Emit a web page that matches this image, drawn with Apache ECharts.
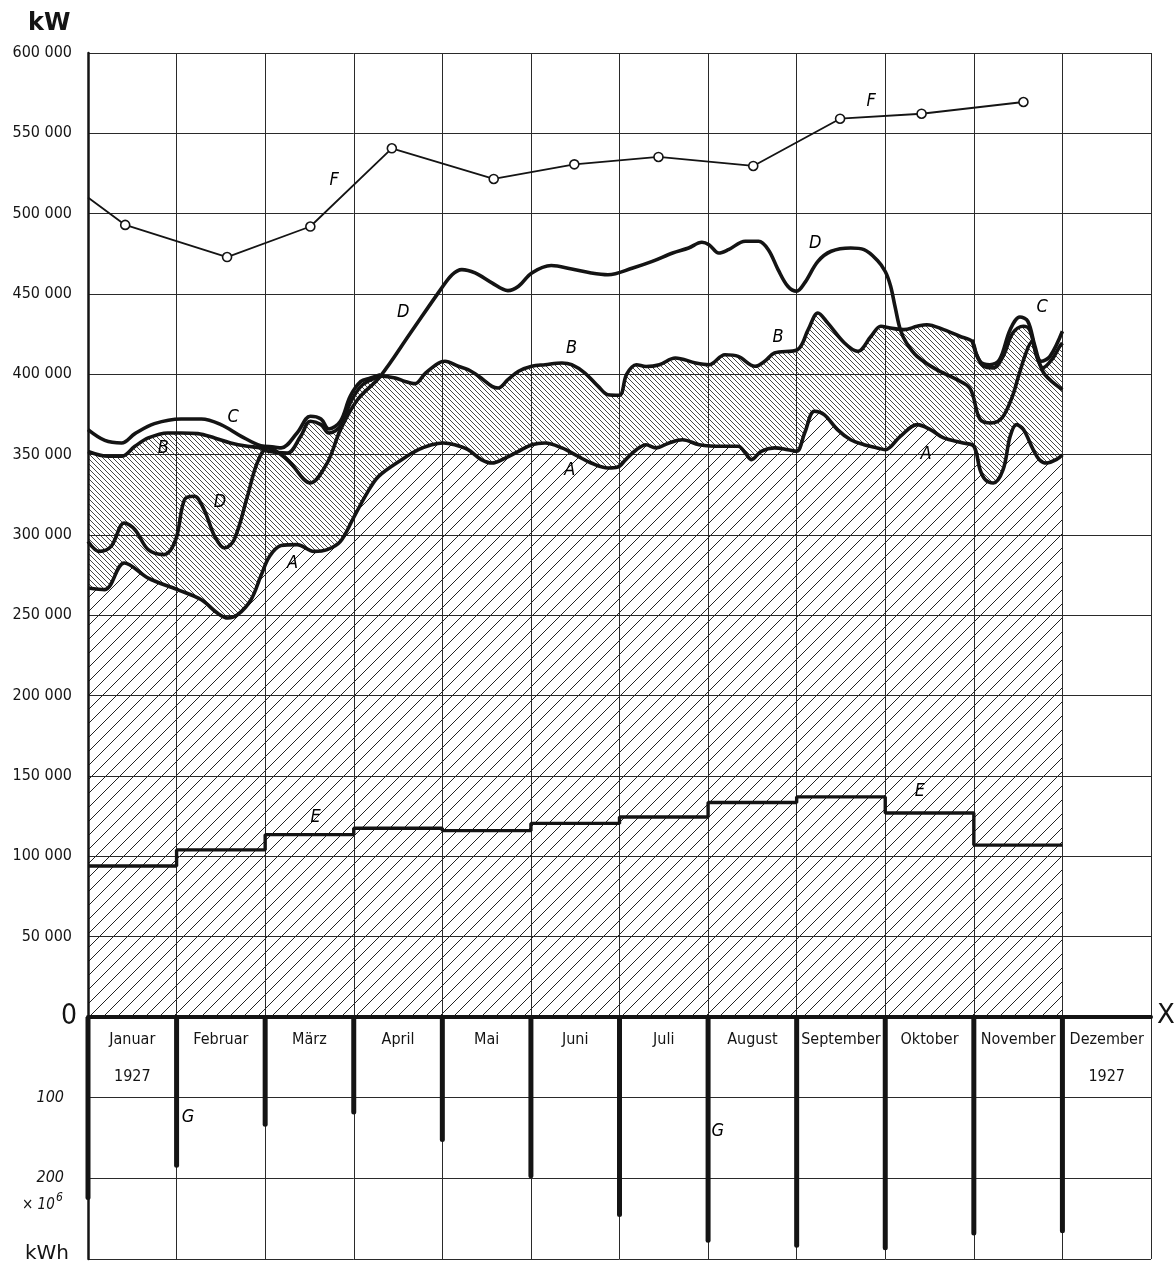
<!DOCTYPE html>
<html><head><meta charset="utf-8">
<script src="https://cdn.jsdelivr.net/npm/echarts/dist/echarts.min.js"></script>
<style>html,body{margin:0;padding:0;background:#fff}#c{width:1175px;height:1261px}</style>
</head><body><div id="c"></div>
<script>
// ---------- data (months as x: 0 = 1 January, 12 = end of December) ----------
const months = ['Januar','Februar','März','April','Mai','Juni','Juli','August','September','Oktober','November','Dezember'];
const monthYear = ['1927','','','','','','','','','','','1927'];
const kwTickStep = 50000;
const kwhTickLabels = [100, 200];

const curveA = [[0,267000],[0.19,266000],[0.41,282600],[0.68,273200],[1.01,266000],[1.28,259700],[1.46,251400],[1.58,248300],[1.69,250400],[1.84,259700],[1.95,274300],[2.05,286700],[2.18,293400],[2.36,294000],[2.55,289800],[2.70,290900],[2.85,296000],[3.00,311000],[3.15,326100],[3.28,336500],[3.54,346900],[3.73,353100],[3.88,356200],[4.01,357300],[4.14,356200],[4.29,353100],[4.44,346900],[4.56,344800],[4.71,347900],[4.86,352100],[5.01,356200],[5.16,357300],[5.35,354200],[5.53,349000],[5.68,344800],[5.87,341700],[5.98,342300],[6.07,346900],[6.19,353100],[6.30,356200],[6.41,354200],[6.56,357300],[6.71,359300],[6.90,356200],[7.16,355200],[7.34,355200],[7.42,351000],[7.49,346900],[7.60,352100],[7.75,354200],[7.90,353100],[8.00,352100],[8.09,363500],[8.20,377000],[8.31,374900],[8.46,365600],[8.61,359300],[8.76,356200],[8.91,354200],[9.00,353100],[9.17,361400],[9.36,368700],[9.51,365600],[9.66,360400],[9.88,357300],[10.00,355200],[10.07,340700],[10.13,334400],[10.22,332400],[10.33,340700],[10.41,361400],[10.48,368700],[10.56,365600],[10.67,353100],[10.74,346900],[10.82,344800],[10.93,346900],[11.00,350000]];

const curveB = [[0,352000],[0.23,349000],[0.38,349000],[0.53,355200],[0.68,360400],[0.90,363500],[1.05,363500],[1.24,363100],[1.43,360400],[1.61,357300],[1.80,355200],[1.95,354200],[2.03,352100],[2.25,351000],[2.40,361400],[2.51,370800],[2.63,368700],[2.72,363500],[2.85,367600],[2.96,382200],[3.08,392500],[3.20,396700],[3.32,398800],[3.47,397700],[3.58,395600],[3.69,394200],[3.81,400800],[3.96,407100],[4.03,408100],[4.18,405000],[4.29,402900],[4.41,398800],[4.56,392500],[4.63,391500],[4.74,396700],[4.86,401900],[5.01,405000],[5.16,406000],[5.35,407100],[5.46,406000],[5.61,400800],[5.76,392500],[5.87,387300],[6.00,387000],[6.08,400000],[6.19,406000],[6.30,404900],[6.45,406000],[6.63,410200],[6.86,407100],[7.01,406000],[7.19,412200],[7.34,411200],[7.53,405000],[7.64,408100],[7.75,413300],[8.01,415400],[8.13,427800],[8.24,438200],[8.35,432000],[8.54,419500],[8.69,414300],[8.84,423700],[8.95,429900],[9.06,428800],[9.21,427800],[9.36,429900],[9.47,430900],[9.66,427800],[9.84,423700],[9.98,420500],[10.03,412200],[10.11,405000],[10.22,404000],[10.33,411200],[10.44,425700],[10.56,429900],[10.63,427800],[10.71,411200],[10.78,404000],[10.88,409100],[10.97,417400],[11.00,419500]];

const curveCWinter = [[0,365600],[0.19,358900],[0.38,357300],[0.53,363100],[0.75,369300],[1.05,372200],[1.28,372200],[1.50,368700],[1.73,361400],[1.95,355600],[2.10,354800],[2.18,354200],[2.36,363500],[2.51,373900],[2.63,372200],[2.72,366000],[2.85,370800],[2.96,386300],[3.08,395600],[3.19,397700],[3.30,399800]];
const curveCAutumn = [[9.98,421500],[10.07,408100],[10.18,406000],[10.29,409100],[10.41,427800],[10.52,435700],[10.61,433000],[10.69,417400],[10.76,408100],[10.86,411200],[11.00,426800]];

const curveD = [[0,296000],[0.13,289800],[0.26,292900],[0.41,307500],[0.53,303300],[0.68,290900],[0.86,287800],[0.99,297100],[1.09,322000],[1.20,324100],[1.31,315800],[1.43,299200],[1.54,291900],[1.65,297100],[1.80,324100],[1.91,344800],[2.03,354200],[2.25,346900],[2.51,332400],[2.70,344800],[2.85,365600],[3.04,384000],[3.30,398800],[3.64,425700],[3.98,452700],[4.11,462000],[4.22,465200],[4.37,463100],[4.56,456900],[4.74,452100],[4.86,454800],[5.01,463100],[5.23,467700],[5.46,465600],[5.68,463100],[5.87,462000],[6.15,466200],[6.37,470300],[6.60,475500],[6.78,478600],[6.93,482200],[7.01,480700],[7.12,475500],[7.23,477600],[7.42,482800],[7.57,482800],[7.68,477600],[7.79,465200],[7.90,454800],[8.00,451700],[8.09,456900],[8.24,470300],[8.39,476600],[8.61,478600],[8.76,477600],[8.91,471000],[9.00,464000],[9.06,455000],[9.11,442300],[9.17,427800],[9.24,419500],[9.36,411200],[9.58,402900],[9.81,396700],[9.96,391000],[10.07,372000],[10.20,369700],[10.32,373000],[10.43,385500],[10.50,398000],[10.58,412000],[10.65,420000],[10.72,410000],[10.80,400000],[11.00,390500]];

const stepE = [[0,94000],[1,104000],[2,113500],[3,117500],[4,116000],[5,120500],[6,124500],[7,133500],[8,137000],[9,127000],[10,107000],[11,107000]];

const pointsF = [[0,510000],[0.42,493000],[1.57,473000],[2.51,492000],[3.43,540700],[4.58,521600],[5.49,530700],[6.44,535300],[7.51,529700],[8.49,559100],[9.41,562200],[10.56,569500]];

// monthly energy G, in 10^6 kWh
const energyG = [[0,227],[1,187],[2,136],[3,121],[4,155],[5,200],[6,248],[7,280],[8,286],[9,289],[10,271],[11,268]];

// curve letters (annotation anchors in data coordinates)
const lettersUpper = [['F',2.78,521000],['F',8.84,570100],['D',3.56,438800],['D',1.49,320500],['D',8.21,481700],['B',0.85,354100],['B',5.46,416400],['B',7.79,423200],['C',1.64,373400],['C',10.77,441900],['A',2.31,282600],['A',5.44,340500],['A',9.46,350400],['E',2.57,124500],['E',9.39,140700]];
const lettersLower = [['G',1.13,124],['G',7.11,142]];

// ---------- patterns ----------
function hatch(size, dir, lw, color, bg) {
  const c = document.createElement('canvas');
  c.width = size; c.height = size;
  const g = c.getContext('2d');
  if (bg) { g.fillStyle = bg; g.fillRect(0, 0, size, size); }
  g.strokeStyle = color; g.lineWidth = lw;
  g.beginPath();
  for (const o of [-size, 0, size]) {
    if (dir === '/') { g.moveTo(o, size); g.lineTo(o + size, 0); }
    else { g.moveTo(o, 0); g.lineTo(o + size, size); }
  }
  g.stroke();
  return c;
}
const wideHatch = hatch(14, '/', 1, '#222', '#fff');
const denseHatch = hatch(5, '\\', 0.9, '#333', null);

const INK = '#141414';
const FONT = "'Liberation Sans Narrow','DejaVu Sans Condensed','Liberation Sans',sans-serif";
const fmtKw = v => v === 0 ? '{big|0}' : String(v).replace(/\B(?=(\d{3})+(?!\d))/g, ' ');

const thick = { color: INK, width: 3.6 };
const letterLabel = { show: true, position: 'inside', formatter: '{b}', fontFamily: "'DejaVu Sans Condensed','Liberation Sans Narrow',sans-serif",
  fontStyle: 'italic', fontSize: 18, color: '#000', textBorderWidth: 0, opacity: 1 };

const chart = echarts.init(document.getElementById('c'), null, { renderer: 'canvas' });
chart.setOption({
  animation: false,
  backgroundColor: '#fff',
  grid: [
    { left: 88, right: 24, top: 53, height: 964 },
    { left: 88, right: 24, top: 1017, height: 242 }
  ],
  xAxis: [
    { type: 'value', gridIndex: 0, min: 0, max: 12, interval: 1, z: 5,
      axisLine: { show: false }, axisTick: { show: false }, axisLabel: { show: false },
      splitLine: { show: true, lineStyle: { color: '#2a2a2a', width: 1 } } },
    { type: 'category', gridIndex: 1, position: 'top', data: months.map((m, i) => monthYear[i] ? m + '\n' + monthYear[i] : m),
      boundaryGap: true, z: 6,
      axisLine: { show: true, lineStyle: { color: INK, width: 4 } }, axisTick: { show: false },
      axisLabel: { inside: true, margin: 4, fontFamily: FONT, fontSize: 16, color: INK, lineHeight: 37, interval: 0 },
      splitLine: { show: false } },
    { type: 'value', gridIndex: 1, min: 0, max: 12, interval: 1, z: 5,
      axisLine: { show: false }, axisTick: { show: false }, axisLabel: { show: false },
      splitLine: { show: true, lineStyle: { color: '#2a2a2a', width: 1 } } }
  ],
  yAxis: [
    { type: 'value', gridIndex: 0, min: 0, max: 600000, interval: kwTickStep, z: 5,
      axisLine: { show: true, lineStyle: { color: INK, width: 2.5 } }, axisTick: { show: false },
      axisLabel: { margin: 16, fontFamily: FONT, fontSize: 16, color: INK, formatter: fmtKw,
        rich: { big: { fontSize: 28, fontFamily: FONT, color: INK, padding: [0, -5, 0, 0] } } },
      splitLine: { show: true, lineStyle: { color: '#2a2a2a', width: 1 } } },
    { type: 'value', gridIndex: 1, min: 0, max: 300, interval: 100, inverse: true, z: 5,
      axisLine: { show: true, lineStyle: { color: INK, width: 2.5 } }, axisTick: { show: false },
      axisLabel: { margin: 24, fontFamily: FONT, fontSize: 16, fontStyle: 'italic', color: INK,
        formatter: v => kwhTickLabels.includes(v) ? String(v) : '' },
      splitLine: { show: true, lineStyle: { color: '#2a2a2a', width: 1 } } }
  ],
  series: [
    { name: 'B-Fläche', type: 'line', xAxisIndex: 0, yAxisIndex: 0, data: curveB, smooth: 0.35, symbol: 'none',
      lineStyle: { width: 0 }, areaStyle: { color: { image: denseHatch, repeat: 'repeat' }, opacity: 1 }, z: 1 },
    { name: 'A-Fläche', type: 'line', xAxisIndex: 0, yAxisIndex: 0, data: curveA, smooth: 0.35, symbol: 'none',
      lineStyle: { width: 0 }, areaStyle: { color: { image: wideHatch, repeat: 'repeat' }, opacity: 1 }, z: 2 },
    { name: 'C', type: 'line', data: curveCWinter, smooth: 0.35, symbol: 'none', lineStyle: thick, z: 7 },
    { name: 'C', type: 'line', data: curveCAutumn, smooth: 0.35, symbol: 'none', lineStyle: thick, z: 7 },
    { name: 'B', type: 'line', data: curveB, smooth: 0.35, symbol: 'none', lineStyle: thick, z: 8 },
    { name: 'A', type: 'line', data: curveA, smooth: 0.35, symbol: 'none', lineStyle: thick, z: 8 },
    { name: 'D', type: 'line', data: curveD, smooth: 0.35, symbol: 'none', lineStyle: thick, z: 8 },
    { name: 'E', type: 'line', data: stepE, step: 'end', symbol: 'none', lineStyle: { color: INK, width: 3.4 }, z: 8 },
    { name: 'F', type: 'line', data: pointsF.map((p, i) => i === 0 ? { value: p, symbol: 'none' } : p),
      symbol: 'circle', symbolSize: 9, lineStyle: { color: INK, width: 1.8 },
      itemStyle: { color: '#fff', borderColor: INK, borderWidth: 1.6 }, z: 8 },
    { name: 'G', type: 'bar', xAxisIndex: 2, yAxisIndex: 1, data: energyG, barWidth: 5, clip: false,
      itemStyle: { color: INK, borderRadius: [0, 0, 2.5, 2.5] }, z: 8 },
    { name: 'Buchstaben', type: 'scatter', xAxisIndex: 0, yAxisIndex: 0, symbolSize: 2,
      itemStyle: { color: 'rgba(255,255,255,0)' },
      data: lettersUpper.map(d => ({ name: d[0], value: [d[1], d[2]] })), label: letterLabel, z: 9 },
    { name: 'Buchstaben G', type: 'scatter', xAxisIndex: 2, yAxisIndex: 1, symbolSize: 2,
      itemStyle: { color: 'rgba(255,255,255,0)' },
      data: lettersLower.map(d => ({ name: d[0], value: [d[1], d[2]] })), label: letterLabel, z: 9 }
  ],
  graphic: [
    { type: 'text', left: 28, top: 12, style: { text: 'kW', font: "bold 24px 'DejaVu Sans'", fill: INK } },
    { type: 'text', left: 1157, top: 1003, style: { text: 'X', font: "26px 'DejaVu Sans'", fill: INK } },
    { type: 'text', left: 22, top: 1198, style: { text: '× 10', font: "italic 15px " + FONT, fill: INK } },
    { type: 'text', left: 56, top: 1192, style: { text: '6', font: "italic 12px " + FONT, fill: INK } },
    { type: 'text', left: 25, top: 1244, style: { text: 'kWh', font: "20px 'DejaVu Sans'", fill: INK } }
  ]
});
</script></body></html>
